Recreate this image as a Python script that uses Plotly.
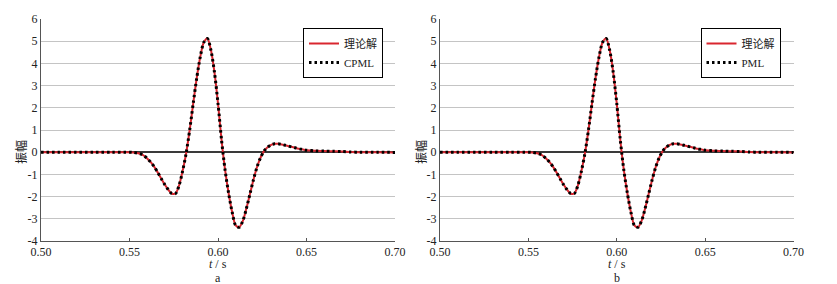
import plotly.graph_objects as go

# time samples (s)
t = [0.500, 0.510, 0.520, 0.530, 0.540, 0.548, 0.552, 0.556, 0.558, 0.560,
     0.562, 0.564, 0.566, 0.568, 0.570, 0.572, 0.574, 0.576, 0.578, 0.580,
     0.582, 0.584, 0.586, 0.588, 0.590, 0.592, 0.594, 0.596, 0.598, 0.600,
     0.602, 0.604, 0.606, 0.608, 0.610, 0.612, 0.614, 0.616, 0.618, 0.620,
     0.622, 0.624, 0.626, 0.628, 0.630, 0.632, 0.634, 0.636, 0.638, 0.640,
     0.642, 0.644, 0.646, 0.648, 0.650, 0.655, 0.660, 0.665, 0.670, 0.675,
     0.680, 0.690, 0.700]

# theoretical amplitude
theory_amp = [0.00, 0.00, 0.00, 0.00, 0.00, 0.00, -0.01, -0.07, -0.15, -0.28,
              -0.45, -0.66, -0.92, -1.20, -1.47, -1.70, -1.87, -1.86, -1.50, -0.85,
              -0.05, 1.00, 2.20, 3.35, 4.30, 4.95, 5.12, 4.60, 3.60, 2.20,
              0.55, -0.80, -1.85, -2.70, -3.30, -3.38, -3.10, -2.55, -1.90, -1.25,
              -0.68, -0.25, 0.05, 0.22, 0.33, 0.38, 0.38, 0.35, 0.31, 0.27,
              0.23, 0.19, 0.15, 0.12, 0.09, 0.06, 0.05, 0.04, 0.03, 0.01,
              0.00, 0.00, -0.01]

# numerical solutions (visually identical to the theory)
cpml_amp = list(theory_amp)
pml_amp = list(theory_amp)

x_ticks = [0.50, 0.55, 0.60, 0.65, 0.70]
x_ticktext = ["0.50", "0.55", "0.60", "0.65", "0.70"]
y_ticks = [-4, -3, -2, -1, 0, 1, 2, 3, 4, 5, 6]
y_ticktext = ["-4", "-3", "-2", "-1", "0", "1", "2", "3", "4", "5", "6"]

panels = [("CPML", cpml_amp, "a"), ("PML", pml_amp, "b")]

OFF = 8  # page body margin of the browser
W, H = 837 - OFF, 284 - OFF
FONT = "Liberation Serif, Times New Roman, Noto Sans CJK SC, serif"
RED = "#d9262f"
TXT = "#222222"


def px(xr):
    return (xr - OFF) / W


def py(yr):
    return (H - (yr - OFF)) / H


x_domains = [[px(41), px(395)], [px(440), px(793.5)]]
y_domain = [py(241), py(19)]
legend_x = [px(303), px(700.5)]

fig = go.Figure()

for i, (name, amp, label) in enumerate(panels):
    xa = "x" if i == 0 else "x2"
    ya = "y" if i == 0 else "y2"
    lg = "legend" if i == 0 else "legend2"
    fig.add_trace(go.Scatter(
        x=t, y=theory_amp, mode="lines", name="理论解",
        line=dict(color=RED, width=2, shape="spline", smoothing=0.8),
        xaxis=xa, yaxis=ya, legend=lg))
    fig.add_trace(go.Scatter(
        x=t, y=amp, mode="lines", name=name,
        line=dict(color="black", width=3, dash="2.5px,3px", shape="spline", smoothing=0.8),
        xaxis=xa, yaxis=ya, legend=lg))

axis_common_x = dict(
    range=[0.5, 0.7], tickvals=x_ticks, ticktext=x_ticktext,
    showgrid=False, zeroline=False, showline=True, linecolor="#555555", linewidth=1,
    ticks="inside", ticklen=3, tickcolor="#555555", automargin=False,
    tickfont=dict(family=FONT, size=12, color=TXT), fixedrange=True)
axis_common_y = dict(
    range=[-4, 6], tickvals=y_ticks, ticktext=y_ticktext,
    showgrid=True, gridcolor="#c4c4c4", gridwidth=1,
    zeroline=True, zerolinecolor="#3a3a3a", zerolinewidth=1.5,
    showline=True, linecolor="#555555", linewidth=1, automargin=False,
    ticks="", tickfont=dict(family=FONT, size=12, color=TXT), fixedrange=True)

fig.update_layout(
    width=W, height=H,
    margin=dict(l=0, r=0, t=0, b=0, autoexpand=False),
    paper_bgcolor="white", plot_bgcolor="white",
    font=dict(family=FONT, size=12, color=TXT),
    xaxis=dict(domain=x_domains[0], anchor="y", **axis_common_x),
    yaxis=dict(domain=y_domain, anchor="x", **axis_common_y),
    xaxis2=dict(domain=x_domains[1], anchor="y2", **axis_common_x),
    yaxis2=dict(domain=y_domain, anchor="x2", **axis_common_y),
)

for i, key in enumerate(["legend", "legend2"]):
    fig.update_layout(**{key: dict(
        x=legend_x[i], y=py(28), xanchor="left", yanchor="top",
        bgcolor="white", bordercolor="black", borderwidth=1,
        font=dict(family=FONT, size=11, color=TXT),
        tracegroupgap=0, itemwidth=30)})

annotations = []
for i, (name, amp, label) in enumerate(panels):
    cx = (x_domains[i][0] + x_domains[i][1]) / 2
    annotations.append(dict(x=cx, y=py(263.5), xref="paper", yref="paper",
                            xanchor="center", yanchor="middle",
                            text="<i>t</i> / s", showarrow=False,
                            font=dict(family=FONT, size=12, color=TXT)))
    annotations.append(dict(x=cx, y=py(277.5), xref="paper", yref="paper",
                            xanchor="center", yanchor="middle",
                            text=label, showarrow=False,
                            font=dict(family=FONT, size=12, color=TXT)))
    annotations.append(dict(x=px(21 if i == 0 else 421), y=py(152),
                            xref="paper", yref="paper",
                            xanchor="center", yanchor="middle",
                            text="振幅", textangle=-90, showarrow=False,
                            font=dict(family=FONT, size=12, color=TXT)))
fig.update_layout(annotations=annotations)

fig.write_html("out.html")
